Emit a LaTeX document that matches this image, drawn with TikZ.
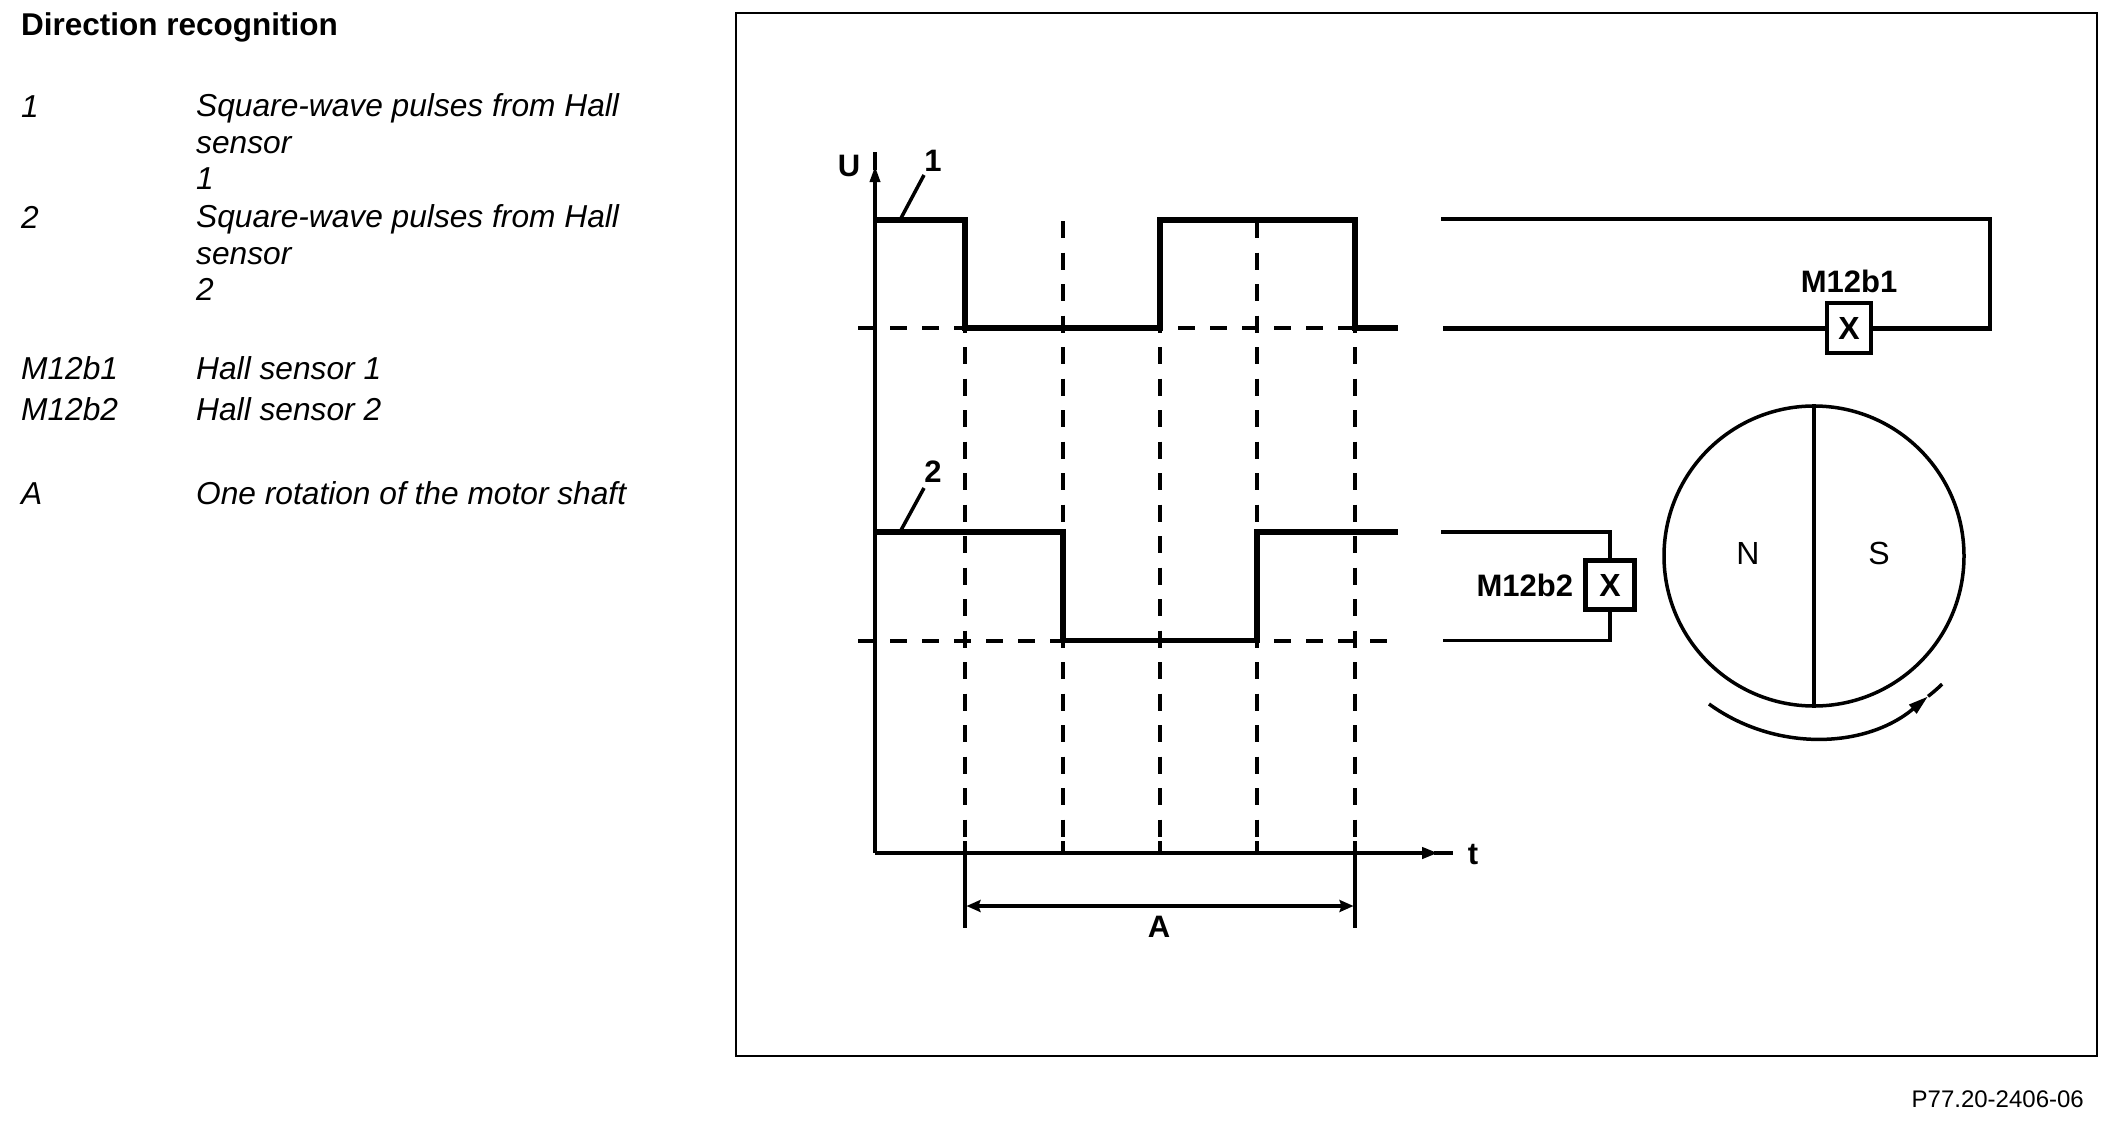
\documentclass[tikz,border=0pt]{standalone}
\usepackage{fontspec}
\setmainfont{Liberation Sans}
\usetikzlibrary{arrows.meta,positioning}
\tikzset{
    every picture/.style={line join=miter},
    thinline/.style={line width=3.5pt},
    pulse/.style={line width=5.5pt},
    guide/.style={line width=3.5pt,dash pattern=on 17pt off 14.5pt},
    level/.style={line width=4pt,dash pattern=on 17pt off 15pt},
    framebox/.style={draw,line width=2pt},
    sensorbox/.style={draw,line width=4.5pt,fill=white,inner sep=0pt,font=\fontsize{32}{36}\selectfont\bfseries},
    plotlabel/.style={inner sep=0pt,font=\fontsize{31}{36}\selectfont\bfseries},
    polelabel/.style={inner sep=0pt,font=\fontsize{32}{36}\selectfont},
    legendkey/.style={inner sep=0pt,anchor=base west,font=\fontsize{31.7}{36.5}\selectfont\itshape},
    legendtext/.style={inner sep=0pt,anchor=north west,align=left,font=\fontsize{31.7}{36.5}\selectfont\itshape}
}
\begin{document}
\begin{tikzpicture}[x=1pt,y=-1pt,>={Stealth[length=14pt,width=12pt,inset=2pt]}]
  \useasboundingbox (0,0) rectangle (2120,1124);
  % legend
  \node[legendkey,font=\fontsize{31.5}{36}\selectfont\bfseries] (title) at (21,36) {Direction recognition};
  \node[legendkey] (key1) at (21,117) {1};
  \node[legendtext] (text1) at (196,93.5) {Square-wave pulses from Hall\\sensor\\1};
  \node[legendkey] (key2) at (21,228) {2};
  \node[legendtext] (text2) at (196,204.5) {Square-wave pulses from Hall\\sensor\\2};
  \node[legendkey] (keyb1) at (21,379.5) {M12b1};
  \node[legendkey] (textb1) at (196,379.5) {Hall sensor 1};
  \node[legendkey] (keyb2) at (21,420.5) {M12b2};
  \node[legendkey] (textb2) at (196,420.5) {Hall sensor 2};
  \node[legendkey] (keyA) at (21,504) {A};
  \node[legendkey] (textA) at (196,504) {One rotation of the motor shaft};
  \node[framebox,minimum width=1360.5pt,minimum height=1043pt,anchor=north west] (frame) at (735,12) {};
  \node[inner sep=0pt,anchor=base east,font=\fontsize{24}{28}\selectfont] (code) at (2084,1107) {P77.20-2406-06};
  % axes
  \coordinate (origin) at (875,853);
  \coordinate (utop) at (875,152);
  \coordinate (tend) at (1453,853);
  \node[plotlabel] (ulabel) at (849,166) {U};
  \node[plotlabel] (tlabel) at (1473,855) {t};
  \draw[thinline,->,>={Stealth[length=16pt,width=10pt,inset=0pt]}] (origin)--(875,166);
  \draw[thinline] (875,170)--(utop);
  \draw[line width=4.5pt,->,>={Stealth[length=16pt,width=11pt,inset=0pt]}] (origin)--(1438,853);
  \draw[thinline] (1434,853)--(tend);
  % guides and levels
  \foreach \x/\ytop in {965/315.5,1063/221,1160/315.5,1257/221,1355/315.5} {
    \draw[guide] (\x,\ytop)--(\x,838);
    \draw[thinline] (\x,841)--(\x,853);
  }
  \foreach \y in {328,640.5} {
    \draw[level] (858,\y)--(1398,\y);
  }
  % waveforms
  \draw[pulse] (875,220)-|(965,328)-|(1160,220)-|(1355,328)--(1398,328);
  \draw[pulse] (875,532)-|(1063,640.5)-|(1257,532)--(1398,532);
  \node[plotlabel] (wave1) at (933,161) {1};
  \node[plotlabel] (wave2) at (933,472) {2};
  \coordinate (foot1) at (900,220);
  \coordinate (foot2) at (900,532);
  \draw[thinline] (foot1)--(924,175);
  \draw[thinline] (foot2)--(924,488);
  % period A
  \draw[thinline] (965,853)--(965,928);
  \draw[thinline] (1355,853)--(1355,928);
  \draw[line width=4pt,<->] (966.5,906)--(1353.5,906);
  \node[plotlabel] (period) at (1159,927) {A};
  % sensor 1
  \node[sensorbox,minimum width=44pt,minimum height=50pt] (sensor1) at (1849,328) {X};
  \node[plotlabel,above=8pt of sensor1] (name1) {M12b1};
  \coordinate (wire1a) at (1441,219);
  \coordinate (wire1b) at (1443,328);
  \coordinate (wire1c) at (1990,328);
  \draw[thinline] (wire1a)-|(wire1c);
  \draw[line width=5pt] (wire1b)--(sensor1.west);
  \draw[line width=5pt] (sensor1.east)--(1992,328);
  % sensor 2
  \node[sensorbox,minimum width=49pt,minimum height=49pt] (sensor2) at (1610,585) {X};
  \node[plotlabel,left=10pt of sensor2] (name2) {M12b2};
  \coordinate (wire2a) at (1441,532);
  \coordinate (wire2b) at (1443,640.5);
  \draw[thinline] (wire2a)-|(sensor2.north);
  \draw[thinline] (wire2b)-|(sensor2.south);
  % rotor
  \node[draw,circle,line width=3.5pt,minimum size=300pt,inner sep=0pt] (rotor) at (1814,556) {};
  \draw[thinline] (rotor.north)--(rotor.south);
  \node[polelabel] (north) at (1748,553) {N};
  \node[polelabel] (south) at (1879,553) {S};
  \coordinate (spinstart) at (1709,704);
  \draw[thinline,->,>={Stealth[length=20pt,width=11pt,inset=0pt]}] (spinstart) arc[start angle=126,end angle=50,radius=178] coordinate (spinhead);
  \draw[thinline] (spinhead) arc[start angle=52,end angle=46,radius=178];
\end{tikzpicture}
\end{document}
